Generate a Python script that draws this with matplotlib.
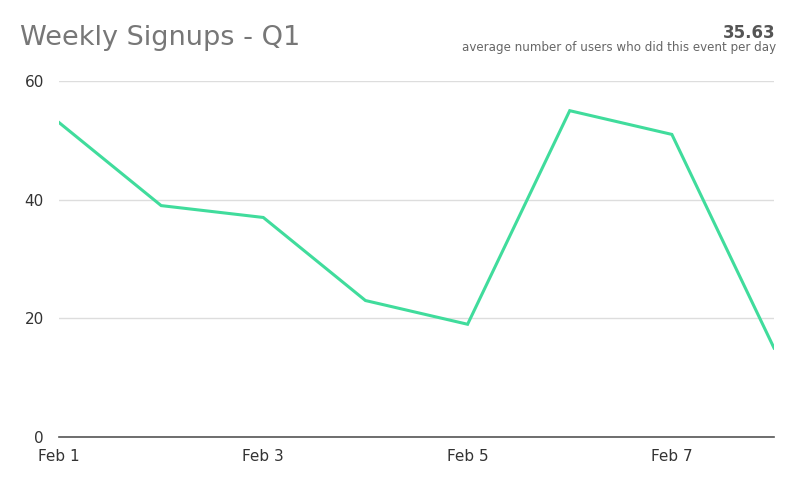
import numpy as np
import matplotlib.pyplot as plt

# data
days = ['Feb 1', 'Feb 2', 'Feb 3', 'Feb 4', 'Feb 5', 'Feb 6', 'Feb 7', 'Feb 8']
signups = [53, 39, 37, 23, 19, 55, 51, 15]
title = 'Weekly Signups - Q1'
avg_value = '35.63'
avg_text = 'average number of users who did this event per day'

fig = plt.figure(figsize=(8.01, 4.94), dpi=100)
ax = fig.add_axes([0.0737, 0.1154, 0.8926, 0.7206])

x = np.arange(len(days))
ax.plot(x, signups, color='#40dc9c', linewidth=2.2, solid_joinstyle='miter')

ax.set_xlim(0, len(days) - 1)
ax.set_ylim(0, 60)
ax.set_yticks([0, 20, 40, 60])
ax.set_xticks(x[::2])
ax.set_xticklabels(days[::2])

for s in ['top', 'right', 'left']:
    ax.spines[s].set_visible(False)
ax.spines['bottom'].set_color('#555555')
ax.spines['bottom'].set_linewidth(1.2)
ax.grid(axis='y', color='#dddddd', linewidth=1.0)
ax.set_axisbelow(True)
ax.tick_params(axis='both', length=0, labelsize=11, labelcolor='#333333')
ax.tick_params(axis='y', pad=11)
ax.tick_params(axis='x', pad=9)

fig.text(20 / 801, 1 - 38 / 494, title, fontsize=19.5, color='#777777', va='center', ha='left')
fig.text(776 / 801, 1 - 33 / 494, avg_value, fontsize=12, fontweight='bold', color='#555555',
         va='center', ha='right')
fig.text(776 / 801, 1 - 47 / 494, avg_text, fontsize=8.6, color='#666666', va='center', ha='right')

fig.savefig('out.png', dpi=100)
